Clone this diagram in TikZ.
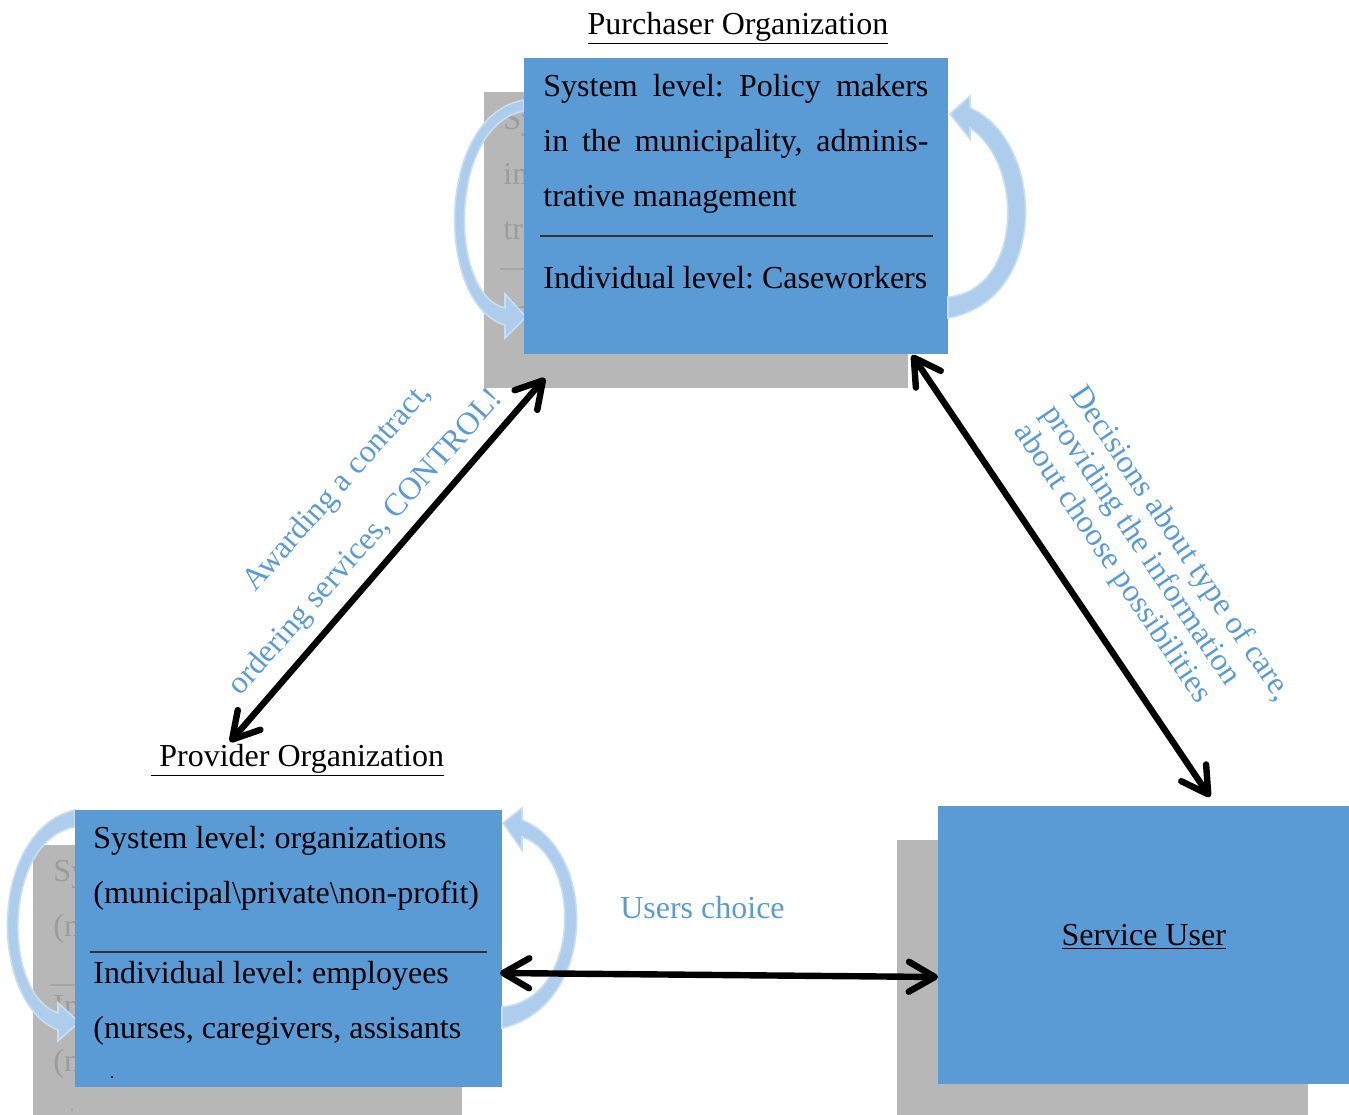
\documentclass[tikz,border=0pt]{standalone}
\usepackage{fontspec}
\setmainfont{Liberation Serif}
\usetikzlibrary{arrows.meta}
\definecolor{boxblue}{HTML}{5B9BD5}
\definecolor{shadowgray}{HTML}{B7B7B7}
\definecolor{ghost}{HTML}{9C9C9C}
\definecolor{loopfill}{HTML}{AECDEC}
\definecolor{loopedge}{HTML}{C7DEF3}
\frenchspacing
\begin{document}
\begin{tikzpicture}[x=0.5pt,y=-0.5pt,
  font=\fontsize{16}{27.5}\selectfont,
  bluebox/.style={fill=boxblue, draw=none, inner sep=0pt, anchor=north west},
  graybox/.style={fill=shadowgray, draw=none, inner sep=0pt, anchor=north west},
  txt/.style={anchor=base west, inner sep=0pt, text=black},
  gtxt/.style={anchor=base west, inner sep=0pt, text=ghost},
  lbl/.style={text=boxblue, inner sep=0pt},
  loopshape/.style={fill=loopfill, draw=loopedge, line width=0.8pt},
  conn/.style={line width=3.2pt, {Straight Barb[length=13pt,width=15pt,round]}-{Straight Barb[length=13pt,width=15pt,round]}},
  divider/.style={draw=black!80, line width=0.7pt},
  gdivider/.style={draw=black!35, line width=0.7pt}]

\clip (0,0) rectangle (1349,1114);

% ---------------- Purchaser ----------------
\node[graybox, minimum width=212pt, minimum height=148pt] (purchS) at (484,92) {};
\node[gtxt] (pg1) at (503,129) {\makebox[192.5pt][s]{System level: Policy makers}};
\node[gtxt] (pg2) at (503,184) {\makebox[192.5pt][s]{in the municipality, adminis-}};
\node[gtxt] (pg3) at (503,239) {trative management};
\draw[gdivider] (500,269) -- (893,269);
\node[gtxt] (pg4) at (503,321) {Individual level: Caseworkers};

\draw[loopshape] (524,100) .. controls (435,115) and (435,305) .. (505,325) -- (505,338) -- (526,317) -- (505,294) -- (505,308) .. controls (448,295) and (448,125) .. (524,111) -- cycle;

\node[bluebox, minimum width=212pt, minimum height=148pt] (purch) at (524,58) {};
\node[txt] (pt1) at (543,96) {\makebox[192.5pt][s]{System level: Policy makers}};
\node[txt] (pt2) at (543,151) {\makebox[192.5pt][s]{in the municipality, adminis-}};
\node[txt] (pt3) at (543,206) {trative management};
\draw[divider] (540,236) -- (933,236);
\node[txt] (pt4) at (543,288) {Individual level: Caseworkers};

\draw[loopshape] (948,297) .. controls (1022,290) and (1025,165) .. (970,128) -- (970,139) -- (950,114) -- (970,96) -- (970,108) .. controls (1045,140) and (1050,300) .. (948,318) -- cycle;

\node[anchor=base, inner sep=0pt] (purchT) at (738,34) {\underline{Purchaser Organization}};

% ---------------- Provider ----------------
\node[graybox, minimum width=214.5pt, minimum height=138.5pt] (provS) at (33,845) {};
\node[gtxt] (vg1) at (53,881) {System level: organizations};
\node[gtxt] (vg2) at (53,936) {(municipal\textbackslash private\textbackslash non-profit)};
\draw[gdivider] (50,985) -- (447,985);
\node[gtxt] (vg3) at (53,1016) {Individual level: employees};
\node[gtxt] (vg4) at (53,1071) {(nurses, caregivers, assisants};
\fill[ghost] (72,1110) circle (1.2);

\draw[loopshape] (75,810) .. controls (-12,830) and (-12,1002) .. (58,1030) -- (58,1041) -- (79,1022) -- (58,1003) -- (58,1013) .. controls (2,995) and (2,840) .. (75,827) -- cycle;

\node[bluebox, minimum width=213.5pt, minimum height=138.5pt] (prov) at (75,810) {};
\node[txt] (vt1) at (93,848) {System level: organizations};
\node[txt] (vt2) at (93,903) {(municipal\textbackslash private\textbackslash non-profit)};
\draw[divider] (90,952) -- (487,952);
\node[txt] (vt3) at (93,983) {Individual level: employees};
\node[txt] (vt4) at (93,1038) {(nurses, caregivers, assisants};
\fill[black] (112,1077) circle (1.2);

\draw[loopshape] (502,1007) .. controls (582,1000) and (582,856) .. (522,837) -- (522,850) -- (503,823) -- (522,808) -- (522,820) .. controls (598,850) and (598,1006) .. (502,1028) -- cycle;

\node[anchor=base west, inner sep=0pt] (provT) at (151,766) {\underline{\ Provider Organization}};

% ---------------- Service user ----------------
\node[graybox, minimum width=205.5pt, minimum height=138.5pt] (userS) at (897,840) {};
\node[bluebox, minimum width=205.5pt, minimum height=139pt] (user) at (938,806) {};
\node[anchor=base, inner sep=0pt] (userT) at (1143.7,945) {\underline{Service User}};

% ---------------- Labels ----------------
\node[lbl, anchor=base, rotate=48.5] (la1) at (344,493) {Awarding a contract,};
\node[lbl, anchor=base, rotate=48.5] (la2) at (372,548) {ordering services, CONTROL!};
\node[lbl, rotate=-56, align=left, font=\fontsize{16}{16.8}\selectfont] (lb) at (1152,563) {Decisions about type of care,\\providing the information\\about choose possibilities};
\node[lbl, anchor=base] (lc) at (702.5,918) {Users choice};

% ---------------- Connectors ----------------
\coordinate (pa) at (545,378);
\coordinate (va) at (230,742);
\coordinate (pb) at (912,355);
\coordinate (ub) at (1210,797);
\coordinate (vc) at (500,973);
\coordinate (uc) at (938,977);
\draw[conn] (va) -- (pa);
\draw[conn] (pb) -- (ub);
\draw[conn] (vc) -- (uc);
\end{tikzpicture}
\end{document}
